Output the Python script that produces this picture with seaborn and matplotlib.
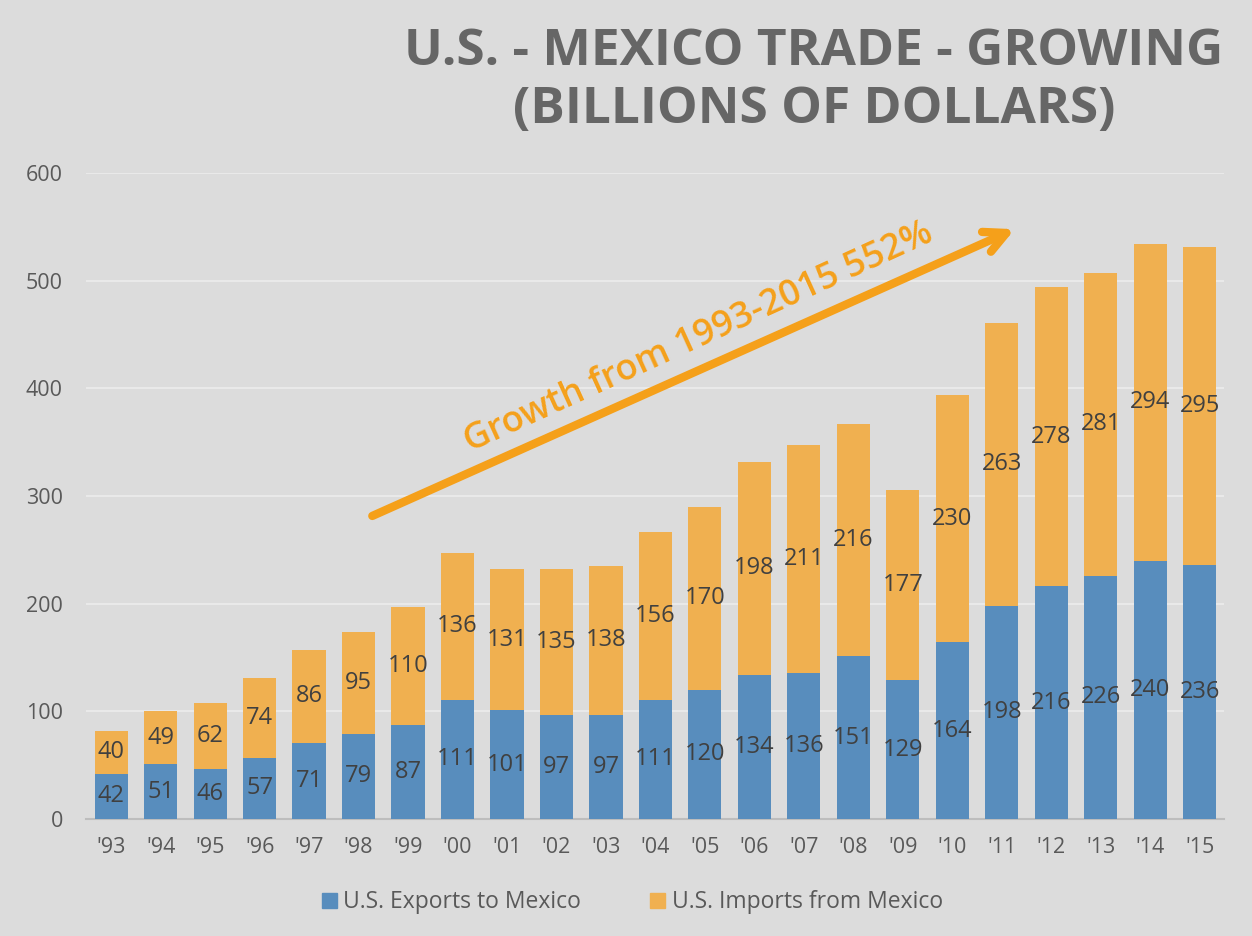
import numpy as np
import pandas as pd
import seaborn as sns
import matplotlib.pyplot as plt
from matplotlib.patches import Patch

years = ["'93", "'94", "'95", "'96", "'97", "'98", "'99", "'00", "'01", "'02", "'03", "'04",
         "'05", "'06", "'07", "'08", "'09", "'10", "'11", "'12", "'13", "'14", "'15"]
exports = [42, 51, 46, 57, 71, 79, 87, 111, 101, 97, 97, 111, 120, 134, 136, 151, 129, 164, 198, 216, 226, 240, 236]
imports = [40, 49, 62, 74, 86, 95, 110, 136, 131, 135, 138, 156, 170, 198, 211, 216, 177, 230, 263, 278, 281, 294, 295]

BG = '#dcdcdc'
BLUE = '#588dbd'
ORANGE = '#f0b050'
ARROW = '#f5a01a'

sns.set_theme(style='white')
plt.rcParams['font.family'] = ['Open Sans', 'DejaVu Sans']

df = pd.DataFrame({'year': years, 'exports': exports, 'imports': imports})
df['total'] = df['exports'] + df['imports']

fig = plt.figure(figsize=(12.52, 9.36), dpi=100, facecolor=BG)
ax = fig.add_axes([0.069, 0.125, 0.909, 0.690])
ax.set_facecolor(BG)

sns.barplot(data=df, x='year', y='total', color=ORANGE, width=0.67, saturation=1,
            linewidth=0, ax=ax, zorder=2)
sns.barplot(data=df, x='year', y='exports', color=BLUE, width=0.67, saturation=1,
            linewidth=0, ax=ax, zorder=3)

ax.set_ylim(0, 600)
ax.set_xlim(-0.5, len(years) - 0.5)
ax.set_yticks(range(0, 601, 100))
ax.yaxis.grid(True, color='#ececec', linewidth=1.2, zorder=0)
ax.set_axisbelow(True)
for s in ['top', 'right', 'left']:
    ax.spines[s].set_visible(False)
ax.spines['bottom'].set_color('#bdbdbd')
ax.spines['bottom'].set_linewidth(1.5)
ax.set_xlabel('')
ax.set_ylabel('')
ax.tick_params(axis='both', length=0, labelsize=15.5, colors='#595959')
ax.tick_params(axis='y', pad=17)
ax.tick_params(axis='x', pad=13)

for i, (e, m) in enumerate(zip(exports, imports)):
    ax.text(i, e / 2, str(e), ha='center', va='center', fontsize=17, color='#404040', zorder=4)
    ax.text(i, e + m / 2, str(m), ha='center', va='center', fontsize=17, color='#404040', zorder=4)

# trend arrow
ax.annotate('', xy=(0.818, 0.915), xytext=(0.249, 0.4675), xycoords='axes fraction',
            arrowprops=dict(arrowstyle='->,head_length=1.3,head_width=0.65', color=ARROW, lw=6))
ax.text(0.538, 0.745, 'Growth from 1993-2015 552%', transform=ax.transAxes, rotation=24.5,
        ha='center', va='center', fontsize=26, color=ARROW, fontweight='semibold', zorder=5)

fig.text(0.65, 0.944, 'U.S. - MEXICO TRADE - GROWING', ha='center', va='center',
         fontsize=37, fontweight='bold', color='#666666')
fig.text(0.65, 0.882, '(BILLIONS OF DOLLARS)', ha='center', va='center',
         fontsize=37, fontweight='bold', color='#666666')

handles = [Patch(color=BLUE, label='U.S. Exports to Mexico'),
           Patch(color=ORANGE, label='U.S. Imports from Mexico')]
fig.legend(handles=handles, loc='center', bbox_to_anchor=(0.505, 0.036), ncol=2, frameon=False,
           fontsize=16.5, labelcolor='#595959', handlelength=0.65, handleheight=0.65,
           handletextpad=0.3, columnspacing=3.0)

fig.savefig('out.png', dpi=100, facecolor=BG)
